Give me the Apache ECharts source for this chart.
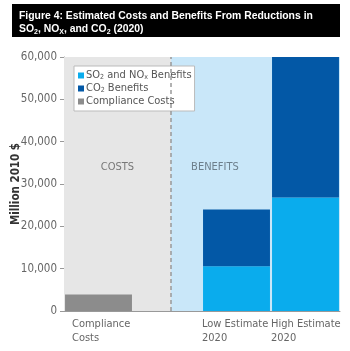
<!DOCTYPE html>
<html>
<head>
<meta charset="utf-8">
<script src="https://cdn.jsdelivr.net/npm/echarts@6/dist/echarts.min.js"></script>
<style>
  html, body { margin: 0; padding: 0; background: #fff; }
  #chart { width: 350px; height: 351px; }
</style>
</head>
<body>
<div id="chart"></div>
<script>
  // data (million 2010 $)
  var categories = ["Compliance\nCosts", "", "Low Estimate\n2020", "High Estimate\n2020"];
  var complianceCosts = [3900, "-", "-", "-"];
  var so2NoxBenefits = ["-", "-", 10600, 26800];
  var co2Benefits = ["-", "-", 13400, 33200];
  var yMin = 0, yMax = 60000, yStep = 10000;
  // costs / benefits shaded regions, in category bands
  var regionNames = ["COSTS", "BENEFITS"];
  var regionEdges = [0, 1.55, 4];

  var narrow = "'DejaVu Sans Condensed', 'DejaVu Sans', sans-serif";
  var titleFont = "'Liberation Sans', Arial, sans-serif";
  var myChart = echarts.init(document.getElementById("chart"));

  var legendText = {
    "SO2 and NOx Benefits": "SO{s|2} and NO{s|x} Benefits",
    "CO2 Benefits": "CO{s|2} Benefits",
    "Compliance Costs": "Compliance Costs",
  };

  var option = {
    animation: false,
    graphic: [
      {
        type: "rect",
        left: 12, top: 4,
        shape: { width: 328, height: 33 },
        style: { fill: "#000" },
        z: 0,
      },
    ],
    title: {
      left: 14, top: 5,
      text: "Figure 4: Estimated Costs and Benefits From Reductions in\n{t|SO}{s|2}{t|, NO}{s|X}{t|, and CO}{s|2}{t| (2020)}",
      textStyle: {
        color: "#fff",
        fontFamily: titleFont,
        fontWeight: "bold",
        fontSize: 10.4,
        lineHeight: 13,
        rich: {
          t: { color: "#fff", fontWeight: "bold", fontSize: 10.4, lineHeight: 13, fontFamily: titleFont },
          s: { color: "#fff", fontWeight: "bold", fontSize: 7, lineHeight: 7, verticalAlign: "bottom", fontFamily: titleFont },
        },
      },
    },
    legend: {
      orient: "vertical",
      left: 74, top: 66,
      data: ["SO2 and NOx Benefits", "CO2 Benefits", "Compliance Costs"],
      icon: "rect",
      itemWidth: 6, itemHeight: 6, itemGap: 2,
      backgroundColor: "#fff",
      borderColor: "#bbb", borderWidth: 1, borderRadius: 0,
      padding: [4, 3, 4, 4],
      formatter: function (name) { return legendText[name]; },
      textStyle: {
        color: "#555", fontFamily: narrow, fontSize: 11, padding: [0, 0, 0, -3],
        rich: {
          s: { color: "#555", fontFamily: narrow, fontSize: 7, lineHeight: 6, verticalAlign: "bottom" },
        },
      },
    },
    grid: { left: 64, right: 10, top: 57, bottom: 40, containLabel: false, outerBoundsMode: "none" },
    xAxis: [
      {
        type: "category",
        data: categories,
        axisLine: { lineStyle: { color: "#999" } },
        axisTick: { show: false },
        axisLabel: { show: false },
      },
      {
        // label axis: names sit at the left edge of each band
        type: "category",
        position: "bottom",
        boundaryGap: false,
        data: categories.concat([""]),
        axisLine: { show: false },
        axisTick: { show: false },
        axisLabel: {
          align: "left", interval: 0, margin: 6, hideOverlap: false,
          color: "#666", fontFamily: narrow, fontSize: 11, lineHeight: 14,
          formatter: function (v, i) { return i === 0 ? "{c|" + v.replace("\n", "}\n{c|") + "}" : v; },
          rich: { c: { color: "#666", fontFamily: narrow, fontSize: 11, lineHeight: 14, padding: [0, 0, 0, 8] } },
        },
      },
      {
        type: "value",
        min: 0, max: 4,
        show: false,
      },
    ],
    yAxis: {
      type: "value",
      min: yMin, max: yMax, interval: yStep,
      name: "Million 2010 $",
      nameLocation: "middle",
      nameRotate: 90,
      nameGap: 42,
      nameMoveOverlap: false,
      nameTextStyle: { color: "#333", fontFamily: narrow, fontWeight: "bold", fontSize: 11.5 },
      axisLine: { show: true, lineStyle: { color: "#999" } },
      axisTick: { show: true, length: 4, lineStyle: { color: "#999" } },
      axisLabel: {
        color: "#666", fontFamily: narrow, fontSize: 11.5, margin: 7,
        formatter: function (v) { return v.toLocaleString("en-US"); },
      },
      splitLine: { lineStyle: { color: "#aaa", width: 1 } },
    },
    series: [
      {
        name: "regions",
        type: "scatter",
        xAxisIndex: 2,
        data: [],
        z: -1,
        silent: true,
        markArea: {
          silent: true,
          data: [
            [
              { xAxis: regionEdges[0], itemStyle: { color: "#e6e6e6" },
                label: { show: true, formatter: regionNames[0], position: ["50%", "43.5%"], align: "center", verticalAlign: "middle", color: "#777", fontFamily: narrow, fontSize: 11 } },
              { xAxis: regionEdges[1] },
            ],
            [
              { xAxis: regionEdges[1], itemStyle: { color: "#c9e7f9" },
                label: { show: true, formatter: regionNames[1], position: ["26%", "43.5%"], align: "center", verticalAlign: "middle", color: "#6d7f8c", fontFamily: narrow, fontSize: 11 } },
              { xAxis: regionEdges[2] },
            ],
          ],
        },
        markLine: {
          silent: true,
          symbol: "none",
          label: { show: false },
          lineStyle: { color: "#999", type: [4, 3], width: 1.5 },
          data: [{ xAxis: regionEdges[1] }],
        },
      },
      {
        name: "Compliance Costs",
        type: "bar",
        stack: "total",
        barCategoryGap: "3%",
        itemStyle: { color: "#8c8c8c" },
        data: complianceCosts,
      },
      {
        name: "SO2 and NOx Benefits",
        type: "bar",
        stack: "total",
        barCategoryGap: "3%",
        itemStyle: { color: "#0aaced" },
        data: so2NoxBenefits,
      },
      {
        name: "CO2 Benefits",
        type: "bar",
        stack: "total",
        barCategoryGap: "3%",
        itemStyle: { color: "#0358a6" },
        data: co2Benefits,
      },
    ],
  };
  myChart.setOption(option);
  window.addEventListener("resize", function () {
    myChart.resize();
  });
</script>
</body>
</html>
